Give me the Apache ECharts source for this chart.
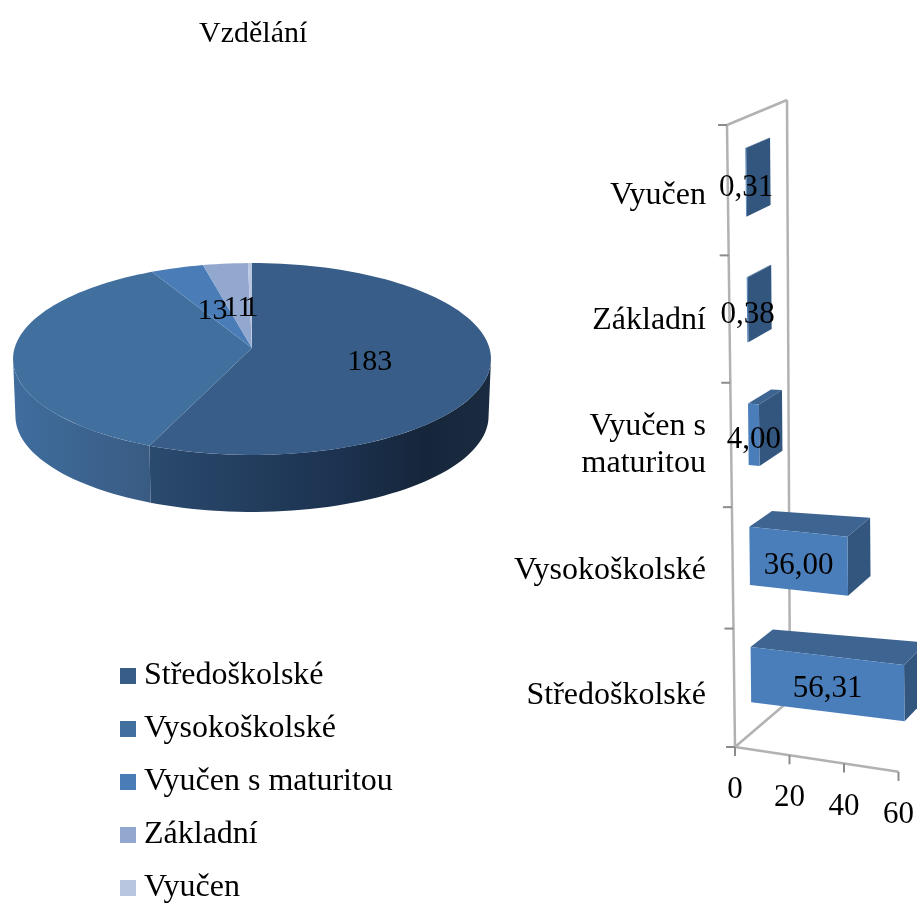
<!DOCTYPE html>
<html>
<head>
<meta charset="utf-8">
<style>
html, body { margin: 0; padding: 0; background: #fff; }
#chart { width: 917px; height: 905px; }
</style>
<script src="https://cdn.jsdelivr.net/npm/echarts@6/dist/echarts.min.js"></script>
</head>
<body>
<div id="chart"></div>
<script>
const categories = ['Středoškolské', 'Vysokoškolské', 'Vyučen s maturitou', 'Základní', 'Vyučen'];
const pieValues = [183, 117, 13, 11, 1];
const pieLabels = ['183', '', '13', '11', '1'];
const barValues = [56.31, 36.00, 4.00, 0.38, 0.31];
const xTicks = [0, 20, 40, 60];
const pieColors = ['#375d88', '#41709f', '#4a7db8', '#92a8cf', '#b9c6e0'];

const FONT = '"Liberation Serif", "Times New Roman", serif';
const chart = echarts.init(document.getElementById('chart'));

// pie perspective, disk point (u, v) goes to the screen with a slight vanishing towards the back
const pie = { cx: 252, cy: 348, a: 94.7, b: 237.4, k: 0.1146, depth: 57 };
const total = pieValues.reduce((s, v) => s + v, 0);
// angles where the rim is at its left/right extreme, the side wall only shows between them
const rimRight = Math.acos(-pie.k) * 180 / Math.PI;
const rimLeft = 360 - rimRight;

function piePoint(r, deg, wall) {
  const rad = deg * Math.PI / 180;
  const u = r * Math.sin(rad);
  const v = -r * Math.cos(rad);
  const w = 1 - pie.k * v;
  const scale = wall ? 0.99 : 1;
  return [
    pie.cx + scale * pie.b * u / w,
    pie.cy + pie.a * v / w + (wall ? pie.depth : 0)
  ];
}

function sliceAngles(index, value) {
  let start = 0;
  for (let i = 0; i < index; i++) start += pieValues[i];
  return [start / total * 360, (start + value) / total * 360];
}

function arc(from, to, wall) {
  const pts = [];
  const n = Math.max(2, Math.ceil((to - from) / 2));
  for (let i = 0; i <= n; i++) pts.push(piePoint(1, from + (to - from) * i / n, wall));
  return pts;
}

function wallFill(index) {
  const stops = index === 0
    ? [[0, '#2a4a6e'], [0.55, '#1c3250'], [0.8, '#16263a'], [1, '#1a2b40']]
    : [[0, '#3f6d9e'], [1, '#395b82']];
  const x0 = index === 0 ? 152 : 13;
  const x1 = index === 0 ? 491 : 152;
  return new echarts.graphic.LinearGradient(x0, 0, x1, 0,
    stops.map((s) => ({ offset: s[0], color: s[1] })), true);
}

function renderPieWall(params, api) {
  const a = sliceAngles(params.dataIndex, api.value(0));
  const from = Math.max(a[0], rimRight);
  const to = Math.min(a[1], rimLeft);
  if (to <= from) return null;
  const top = arc(from, to, false);
  const bottom = arc(from, to, true).reverse();
  return {
    type: 'polygon',
    shape: { points: top.concat(bottom) },
    style: { fill: wallFill(params.dataIndex) }
  };
}

function pieTopRenderer(index) {
  return function (params, api) {
    const a = sliceAngles(index, api.value(0));
    return {
      type: 'polygon',
      shape: { points: [piePoint(0, 0, false)].concat(arc(a[0], a[1], false)) },
      style: { fill: pieColors[index] }
    };
  };
}

function renderPieLabel(params, api) {
  const a = sliceAngles(params.dataIndex, api.value(0));
  const p = piePoint(0.5, (a[0] + a[1]) / 2, false);
  return {
    type: 'text',
    style: {
      text: pieLabels[params.dataIndex],
      x: p[0],
      y: p[1] + 5,
      fill: '#000',
      font: '30px ' + FONT,
      align: 'center',
      verticalAlign: 'middle'
    }
  };
}

// bar chart perspective: grid pixels (from the real axes) are bent into the 3D box
const GRID = { left: 735, top: 133, width: 164, height: 625 };

function box(gx, gy, d) {
  const t0 = (GRID.top + GRID.height - gy) / GRID.height;
  const t = t0 - 0.06 * t0 * (1 - t0);
  const lx = 735 - 8 * t;
  const ly = 747 - 622 * t;
  const dx = 55 + 5 * t;
  const dy = -47 + 22 * t;
  const slope = 0.152 - 0.08 * t - 0.08 * d;
  const run = gx - GRID.left;
  return [lx + d * dx + run, ly + d * dy + run * slope];
}

function renderFrame(params, api) {
  const x0 = api.coord([0, 0])[0];
  const c0 = api.coord([0, 0])[1];
  const band = api.size([0, 1])[1];
  const bottom = c0 + band / 2;
  const top = bottom - band * categories.length;
  const wall = { stroke: '#b2b2b2', lineWidth: 2.5, fill: null };
  const dark = { stroke: '#8c8c8c', lineWidth: 2 };
  const line = (a, b, style) => ({
    type: 'line',
    shape: { x1: a[0], y1: a[1], x2: b[0], y2: b[1] },
    style: style
  });
  const children = [
    line(box(x0, bottom, 0), box(x0, top, 0), wall),
    line(box(x0, top, 0), box(x0, top, 1), wall),
    line(box(x0, top, 1), box(x0, bottom, 1), wall),
    line(box(x0, bottom, 1), box(x0, bottom, 0), wall),
    line(box(x0, bottom, 0), box(api.coord([xTicks[xTicks.length - 1], 0])[0], bottom, 0), wall)
  ];
  for (let i = 0; i <= categories.length; i++) {
    const p = box(x0, bottom - band * i, 0);
    children.push(line([p[0] - 9, p[1]], p, dark));
  }
  xTicks.forEach((v) => {
    const p = box(api.coord([v, 0])[0], bottom, 0);
    children.push(line(p, [p[0], p[1] + 9], dark));
  });
  return { type: 'group', children: children };
}

function renderBar(params, api) {
  const value = api.value(0);
  const end = api.coord([value, api.value(1)]);
  const start = api.coord([0, api.value(1)]);
  const band = api.size([0, 1])[1];
  const half = band * (0.235 + 0.03 * params.dataIndex / 4);
  const d0 = 0.3;
  const d1 = 0.7;
  const poly = (pts, fill) => ({ type: 'polygon', shape: { points: pts }, style: { fill: fill } });
  const yTop = end[1] - half;
  const yBot = end[1] + half;
  const mid = box((start[0] + end[0]) / 2, end[1], d0);
  return {
    type: 'group',
    children: [
      poly([box(start[0], yTop, d0), box(end[0], yTop, d0), box(end[0], yTop, d1), box(start[0], yTop, d1)], '#3e6592'),
      poly([box(end[0], yTop, d0), box(end[0], yTop, d1), box(end[0], yBot, d1), box(end[0], yBot, d0)], '#33567f'),
      poly([box(start[0], yTop, d0), box(end[0], yTop, d0), box(end[0], yBot, d0), box(start[0], yBot, d0)], '#4a7ebb'),
      {
        type: 'text',
        z2: 10,
        style: {
          text: value.toFixed(2).replace('.', ','),
          x: mid[0],
          y: mid[1] + 5,
          fill: '#000',
          font: '31px ' + FONT,
          align: 'center',
          verticalAlign: 'middle'
        }
      }
    ]
  };
}

const option = {
  animation: false,
  backgroundColor: '#fff',
  title: {
    text: 'Vzdělání',
    left: 194,
    top: 14,
    textStyle: { fontFamily: FONT, fontWeight: 'normal', fontSize: 30, color: '#000' }
  },
  legend: {
    orient: 'vertical',
    left: 115,
    top: 655,
    height: 290,
    itemWidth: 16,
    itemHeight: 16,
    itemGap: 21,
    selectedMode: false,
    icon: 'rect',
    data: categories.map((name, i) => ({ name: name, itemStyle: { color: pieColors[i] } })),
    textStyle: { fontFamily: FONT, fontSize: 32, color: '#000', padding: [0, 0, 0, 3] }
  },
  grid: Object.assign({ containLabel: false }, GRID),
  xAxis: {
    type: 'value',
    min: 0,
    max: 60,
    interval: 20,
    axisLine: { show: false },
    axisTick: { show: false },
    splitLine: { show: false },
    axisLabel: {
      margin: 16,
      color: '#000',
      formatter: (v) => '{t' + v + '|' + v + '}',
      rich: Object.fromEntries(xTicks.map((v) => ['t' + v, {
        fontFamily: FONT,
        fontSize: 31,
        color: '#000',
        padding: [Math.round(v * 0.42), 0, 0, 0]
      }]))
    }
  },
  yAxis: {
    type: 'category',
    data: categories,
    axisLine: { show: false },
    axisTick: { show: false },
    splitLine: { show: false },
    axisLabel: {
      margin: 29,
      interval: 0,
      align: 'right',
      color: '#000',
      fontFamily: FONT,
      fontSize: 32,
      lineHeight: 37,
      formatter: (v) => v.replace(' s ', ' s\n')
    }
  },
  series: [
    { type: 'custom', name: 'wall', coordinateSystem: 'none', z: 1, data: pieValues, renderItem: renderPieWall }
  ].concat(categories.map((name, i) => ({
    type: 'custom',
    name: name,
    coordinateSystem: 'none',
    z: 2,
    data: [pieValues[i]],
    renderItem: pieTopRenderer(i)
  }))).concat([
    { type: 'custom', name: 'labels', coordinateSystem: 'none', z: 3, data: pieValues, renderItem: renderPieLabel },
    { type: 'custom', name: 'frame', coordinateSystem: 'cartesian2d', z: 1, data: [[0, 0]], renderItem: renderFrame },
    {
      type: 'custom',
      name: 'Vzdělání',
      coordinateSystem: 'cartesian2d',
      z: 2,
      clip: false,
      encode: { x: 0, y: 1 },
      data: barValues.map((v, i) => [v, i]),
      renderItem: renderBar
    }
  ])
};

chart.setOption(option);
</script>
</body>
</html>
